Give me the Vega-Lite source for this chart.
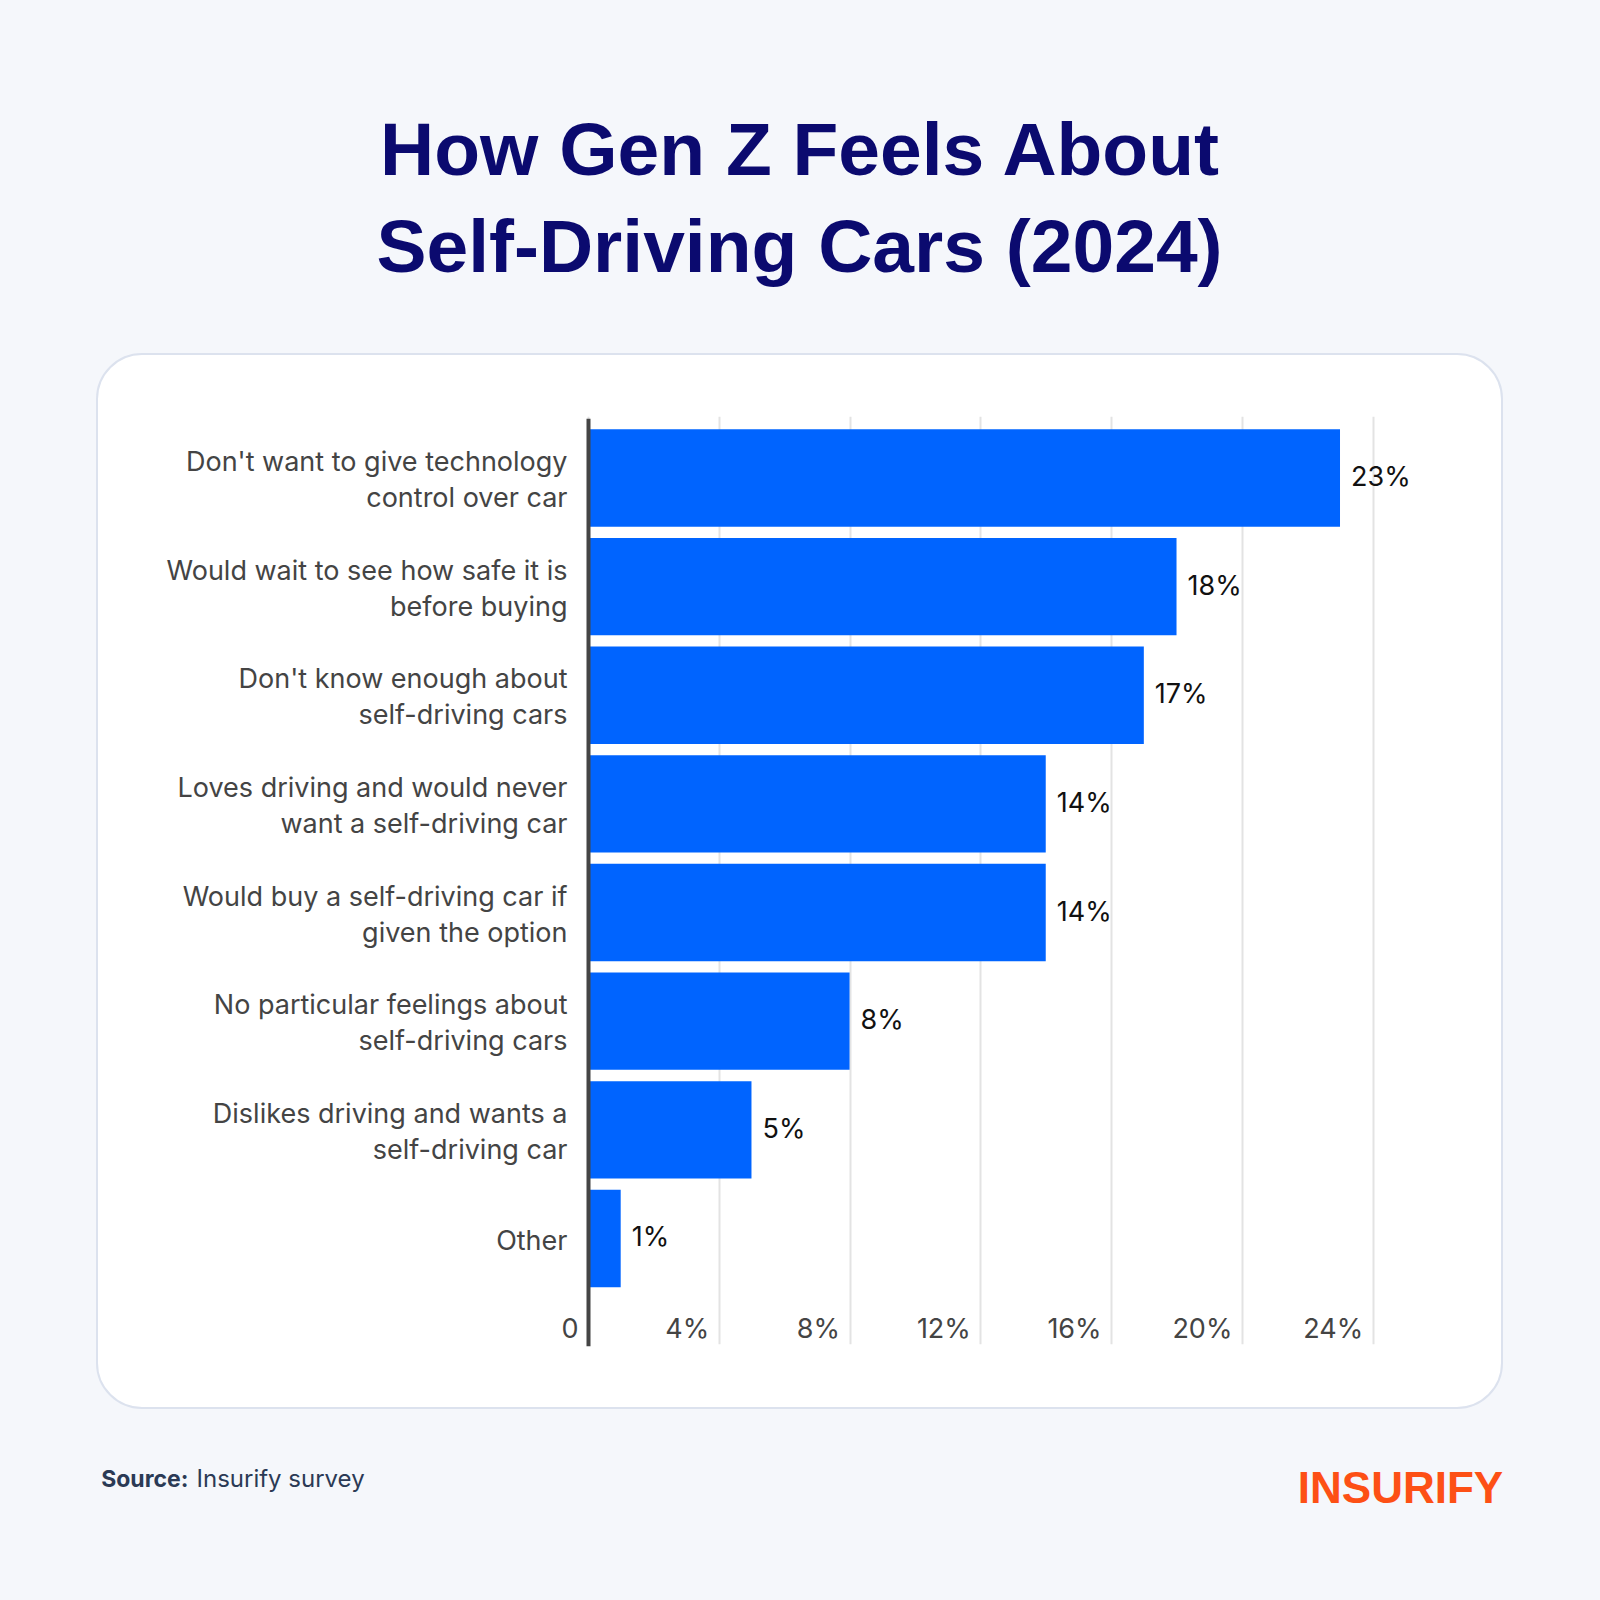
{
  "$schema": "https://vega.github.io/schema/vega-lite/v6.json",
  "autosize": {"type": "none"},
  "width": 1405,
  "height": 1054,
  "padding": {"left": 97, "top": 354, "right": 98, "bottom": 192},
  "background": "#f5f7fb",
  "config": {
    "view": {"fill": "#ffffff", "stroke": "#dce2ee", "strokeWidth": 2, "cornerRadius": 45},
    "font": "Inter"
  },
  "title": {
    "text": ["How Gen Z Feels About", "Self-Driving Cars (2024)"],
    "font": "Liberation Sans",
    "fontSize": 75,
    "fontWeight": "bold",
    "color": "#0b0a6f",
    "lineHeight": 97,
    "anchor": "middle",
    "frame": "group",
    "offset": 66
  },
  "data": {
    "values": [
      {"reason": "Don't want to give technology\ncontrol over car", "share": 0.23},
      {"reason": "Would wait to see how safe it is\nbefore buying", "share": 0.18},
      {"reason": "Don't know enough about\nself-driving cars", "share": 0.17},
      {"reason": "Loves driving and would never\nwant a self-driving car", "share": 0.14},
      {"reason": "Would buy a self-driving car if\ngiven the option", "share": 0.14},
      {"reason": "No particular feelings about\nself-driving cars", "share": 0.08},
      {"reason": "Dislikes driving and wants a\nself-driving car", "share": 0.05},
      {"reason": "Other", "share": 0.01}
    ]
  },
  "encoding": {
    "y": {
      "field": "reason",
      "type": "nominal",
      "sort": null,
      "scale": {"range": [64.3, 991.7], "paddingInner": 0.104, "paddingOuter": 0.32, "align": 0.158},
      "axis": {
        "orient": "left",
        "offset": -491,
        "domain": true,
        "domainColor": "#454545",
        "domainWidth": 4,
        "ticks": false,
        "tickSize": 0,
        "grid": false,
        "labelFont": "Inter",
        "labelFontSize": 27,
        "labelColor": "#444444",
        "labelPadding": 21,
        "labelLimit": 700,
        "labelLineHeight": 36,
        "labelBaseline": "middle",
        "labelOffset": {"condition": {"test": "indexof(datum.label, '\\n') >= 0", "value": -15}, "value": 4},
        "labelExpr": "split(datum.label, '\\n')",
        "zindex": 1,
        "title": "Insurify survey",
        "titleAngle": 0,
        "titleX": -392,
        "titleY": 1132.7,
        "titleAlign": "left",
        "titleBaseline": "alphabetic",
        "titleFont": "Inter",
        "titleFontSize": 24,
        "titleFontWeight": "normal",
        "titleColor": "#2b3a55"
      }
    }
  },
  "layer": [
    {
      "mark": {"type": "bar", "color": "#0064ff"},
      "encoding": {
        "x": {
          "field": "share",
          "type": "quantitative",
          "scale": {"domain": [0, 0.24], "range": [491, 1275.7], "nice": false},
          "axis": {
            "orient": "bottom",
            "offset": -71,
            "values": [0, 0.04, 0.08, 0.12, 0.16, 0.2, 0.24],
            "domain": false,
            "ticks": false,
            "tickSize": 0,
            "labelPadding": 0,
            "labelAlign": "right",
            "labelOffset": -10,
            "labelBaseline": "alphabetic",
            "labelFont": "Inter",
            "labelFontSize": 27,
            "labelColor": "#444444",
            "labelFlush": false,
            "labelOverlap": false,
            "labelExpr": "datum.value == 0 ? '0' : format(datum.value, '.0%')",
            "grid": true,
            "gridColor": "#e3e3e3",
            "gridWidth": 2,
            "title": "Source:",
            "titleX": 3.7,
            "titleY": 149.7,
            "titleAlign": "left",
            "titleBaseline": "alphabetic",
            "titleFont": "Inter",
            "titleFontSize": 23,
            "titleFontWeight": "bold",
            "titleColor": "#2b3a55"
          }
        }
      }
    },
    {
      "mark": {"type": "text", "align": "left", "baseline": "middle", "dx": 11, "font": "Inter", "fontSize": 27, "color": "#111111"},
      "encoding": {
        "x": {
          "field": "share",
          "type": "quantitative",
          "axis": {
            "orient": "top",
            "labels": false,
            "ticks": false,
            "domain": false,
            "grid": false,
            "title": "INSURIFY",
            "titleX": 1405.7,
            "titleY": 1148.3,
            "titleAlign": "right",
            "titleBaseline": "alphabetic",
            "titleFont": "Liberation Sans",
            "titleFontSize": 44,
            "titleFontWeight": "bold",
            "titleColor": "#fd5015"
          }
        },
        "text": {"field": "share", "type": "quantitative", "format": ".0%"}
      }
    }
  ],
  "resolve": {"axis": {"x": "independent"}}
}
